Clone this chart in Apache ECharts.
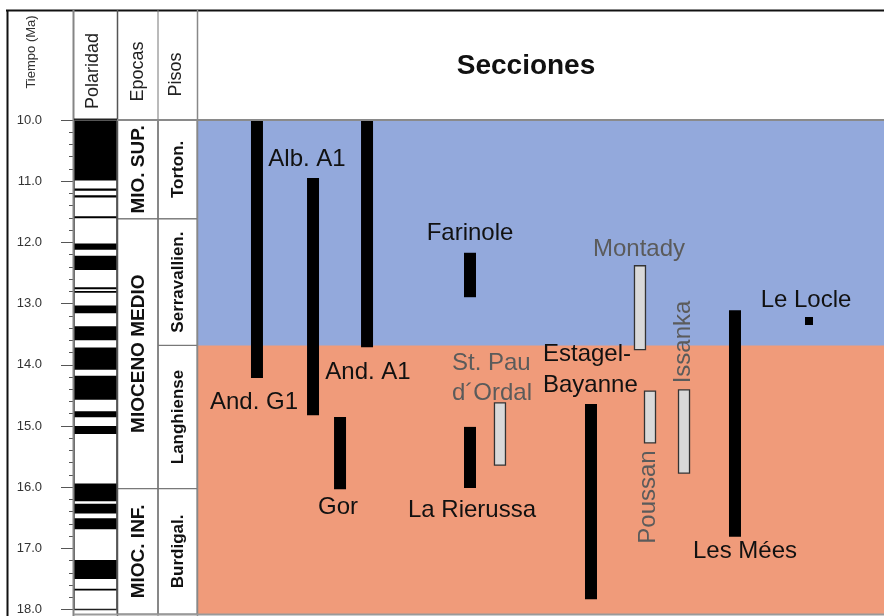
<!DOCTYPE html>
<html><head><meta charset="utf-8">
<script src="https://cdn.jsdelivr.net/npm/echarts@6/dist/echarts.min.js"></script>
<style>html,body{margin:0;padding:0;background:#fff}#c{width:884px;height:616px}</style>
</head><body><div id="c"></div>
<script>
// ---------- data ----------
const timeTicks = [10, 11, 12, 13, 14, 15, 16, 17, 18];           // Ma
const polarityNormal = [                                          // black (normal) chrons, Ma
  [10.0, 10.99], [11.12, 11.155], [11.23, 11.265], [11.575, 11.605],
  [12.02, 12.12], [12.22, 12.45], [12.735, 12.765], [12.795, 12.825],
  [13.03, 13.16], [13.37, 13.6], [13.72, 14.08], [14.18, 14.57],
  [14.76, 14.86], [15.0, 15.13], [15.94, 16.23], [16.27, 16.43],
  [16.51, 16.69], [17.19, 17.5], [17.66, 17.69]
];
const epochNames  = ['MIO. SUP.', 'MIOCENO MEDIO', 'MIOC. INF.'];
const epochBounds = [[10, 11.6], [11.6, 15.97], [15.97, 18]];
const stageNames  = ['Torton.', 'Serravallien.', 'Langhiense', 'Burdigal.'];
const stageBounds = [[10, 11.6], [11.6, 13.65], [13.65, 15.97], [15.97, 18]];
const bandBounds  = [[10, 13.65], [13.65, 18]];

const sectionNames = ['And. G1', 'Alb. A1', 'And. A1', 'Gor', 'Farinole', 'La Rierussa',
  'St. Pau d´Ordal', 'Estagel-Bayanne', 'Montady', 'Poussan', 'Issanka', 'Les Mées', 'Le Locle'];
const sectionTop  = [10.0, 10.94, 10.0, 14.81, 12.15, 14.97, 14.58, 14.6, 12.36, 14.39, 14.37, 13.08, 13.19];
const sectionBase = [14.18, 14.78, 13.68, 15.98, 12.87, 15.96, 15.59, 17.76, 13.72, 15.23, 15.72, 16.75, 13.32];
const sectionKind = ['solid', 'solid', 'solid', 'solid', 'solid', 'solid',
  'open', 'solid', 'open', 'open', 'open', 'solid', 'point'];

// ---------- layout (not data) ----------
const sectionX = [0.0873, 0.1689, 0.2475, 0.2082, 0.3974, 0.3974, 0.4410, 0.5735, 0.6448, 0.6594, 0.7089, 0.7831, 0.8908];
const bandColors = ['#93a9dc', '#f09b7a'];
const FONT = "'Liberation Sans', Arial, Helvetica, sans-serif";
const TOP = 120, H = 494;

const chart = echarts.init(document.getElementById('c'), null, {renderer: 'canvas'});

const yBase = {type: 'value', inverse: true, min: timeTicks[0], max: timeTicks[timeTicks.length - 1], interval: 1,
  splitLine: {show: false}, axisLine: {show: false}};
const xBase = {type: 'value', min: 0, max: 1, show: false};

function colRender(names, colorLine, fontSize, fontWeight) {
  return function (params, api) {
    const a = api.value(0), b = api.value(1);
    const p0 = api.coord([0, a]), p1 = api.coord([1, b]);
    const idx = params.dataIndex;
    return {type: 'group', children: [
      {type: 'rect', shape: {x: p0[0], y: p0[1], width: p1[0] - p0[0], height: p1[1] - p0[1]},
        style: {fill: 'none', stroke: colorLine, lineWidth: 1}},
      {type: 'text', x: (p0[0] + p1[0]) / 2 + 1, y: (p0[1] + p1[1]) / 2, rotation: Math.PI / 2,
        style: {text: names[idx], fontSize: fontSize, fontWeight: fontWeight, fontFamily: FONT, fill: '#111',
          align: 'center', verticalAlign: 'middle'}}
    ]};
  };
}

function txt(text, x, y, size, opts) {
  opts = opts || {};
  return {type: 'text', x: x, y: y, rotation: opts.rot || 0, z: 100,
    style: {text: text, fontSize: size, fontFamily: FONT, fontWeight: opts.weight || 'normal',
      fill: opts.color || '#111', align: opts.align || 'center', textAlign: opts.align || 'center',
      verticalAlign: 'middle', textVerticalAlign: 'middle'}};
}
function line(x1, y1, x2, y2, color, w) {
  return {type: 'line', z: 90, shape: {x1: x1, y1: y1, x2: x2, y2: y2}, style: {stroke: color, lineWidth: w}};
}
const BLACK = '#151515', GRAY = '#5b5b5b';

const option = {
  backgroundColor: '#fff',
  animation: false,
  grid: [
    {left: 74, width: 43, top: TOP, height: H, show: true, borderColor: '#222', borderWidth: 1.5},
    {left: 117, width: 41, top: TOP, height: H},
    {left: 158, width: 39, top: TOP, height: H},
    {left: 197, width: 687, top: TOP, height: H}
  ],
  xAxis: [0, 1, 2, 3].map(i => Object.assign({gridIndex: i}, xBase)),
  yAxis: [
    Object.assign({gridIndex: 0, offset: 12, position: 'left',
      axisTick: {show: true, length: 13, lineStyle: {color: '#555', width: 1}},
      minorTick: {show: true, splitNumber: 5, length: 5, lineStyle: {color: '#555', width: 1}},
      minorSplitLine: {show: false},
      axisLabel: {margin: 20, fontSize: 13, color: '#333', fontFamily: FONT, formatter: v => v.toFixed(1)}}, yBase),
    Object.assign({gridIndex: 1, show: false}, yBase),
    Object.assign({gridIndex: 2, show: false}, yBase),
    Object.assign({gridIndex: 3, show: false}, yBase)
  ],
  series: [
    {type: 'custom', name: 'Polaridad', xAxisIndex: 0, yAxisIndex: 0,
      data: polarityNormal, encode: {y: [0, 1]},
      renderItem: function (params, api) {
        const p0 = api.coord([0, api.value(0)]), p1 = api.coord([1, api.value(1)]);
        return {type: 'rect', shape: {x: p0[0], y: p0[1], width: p1[0] - p0[0], height: Math.max(1.6, p1[1] - p0[1])},
          style: {fill: '#000'}};
      }},
    {type: 'custom', name: 'Epocas', xAxisIndex: 1, yAxisIndex: 1,
      data: epochBounds, encode: {y: [0, 1]}, renderItem: colRender(epochNames, '#777', 19, 'bold')},
    {type: 'custom', name: 'Pisos', xAxisIndex: 2, yAxisIndex: 2,
      data: stageBounds, encode: {y: [0, 1]}, renderItem: colRender(stageNames, '#777', 17, 'bold')},
    {type: 'custom', name: 'Fondo', xAxisIndex: 3, yAxisIndex: 3, z: 1,
      data: bandBounds, encode: {y: [0, 1]},
      renderItem: function (params, api) {
        const p0 = api.coord([0, api.value(0)]), p1 = api.coord([1, api.value(1)]);
        return {type: 'rect', shape: {x: p0[0], y: p0[1], width: p1[0] - p0[0], height: p1[1] - p0[1] + 1},
          style: {fill: bandColors[params.dataIndex]}};
      }},
    {type: 'custom', name: 'Secciones', xAxisIndex: 3, yAxisIndex: 3, z: 5,
      data: sectionNames.map((n, i) => [sectionX[i], sectionTop[i], sectionBase[i]]),
      encode: {x: 0, y: [1, 2]},
      renderItem: function (params, api) {
        const k = sectionKind[params.dataIndex];
        const p0 = api.coord([api.value(0), api.value(1)]), p1 = api.coord([api.value(0), api.value(2)]);
        if (k === 'point') {
          const cy = (p0[1] + p1[1]) / 2;
          return {type: 'rect', shape: {x: p0[0] - 4, y: cy - 4, width: 8, height: 8}, style: {fill: '#000'}};
        }
        const w = 12;
        if (k === 'open') {
          return {type: 'rect', shape: {x: p0[0] - w / 2 + 0.5, y: p0[1], width: w - 1, height: p1[1] - p0[1]},
            style: {fill: '#d9d9d9', stroke: '#333', lineWidth: 1.3}};
        }
        return {type: 'rect', shape: {x: p0[0] - w / 2, y: p0[1], width: w, height: p1[1] - p0[1]},
          style: {fill: '#000'}};
      }}
  ],
  graphic: [
    // frame
    line(6, 10.5, 884, 10.5, '#111', 2),
    line(7.5, 10, 7.5, 616, '#111', 2),
    line(73.5, 10, 73.5, 616, '#858585', 2),
    line(117.5, 10, 117.5, 616, '#555', 1.5),
    line(158, 10, 158, 616, '#777', 1),
    line(197.5, 10, 197.5, 616, '#888', 1.5),
    line(74, 120, 884, 120, '#8a8a8a', 2),
    line(74, 119.5, 117, 119.5, '#222', 2),
    line(74, 614.5, 884, 614.5, '#9a9a9a', 2),
    // header
    txt('Tiempo (Ma)', 31, 52, 13, {rot: Math.PI / 2, color: '#333'}),
    txt('Polaridad', 93, 71, 18, {rot: Math.PI / 2, color: '#222'}),
    txt('Epocas', 138, 71.5, 18, {rot: Math.PI / 2, color: '#222'}),
    txt('Pisos', 176, 74.5, 18, {rot: Math.PI / 2, color: '#222'}),
    txt('Secciones', 526, 66, 28, {weight: 'bold'}),
    // section labels
    txt('Alb. A1', 307, 159, 24),
    txt('Farinole', 470, 233, 24),
    txt('And. A1', 368, 372, 24),
    txt('And. G1', 254, 402, 24),
    txt('St. Pau', 452, 363, 24, {align: 'left', color: GRAY}),
    txt('d´Ordal', 452, 393, 24, {align: 'left', color: GRAY}),
    txt('Gor', 338, 507, 24),
    txt('La Rierussa', 472, 510, 24),
    txt('Montady', 639, 249, 24, {color: GRAY}),
    txt('Le Locle', 806, 300, 24),
    txt('Estagel-', 543, 354, 24, {align: 'left'}),
    txt('Bayanne', 543, 385, 24, {align: 'left'}),
    txt('Issanka', 683, 342, 24, {rot: Math.PI / 2, color: GRAY}),
    txt('Poussan', 648, 497, 24, {rot: Math.PI / 2, color: GRAY}),
    txt('Les Mées', 745, 551, 24)
  ]
};
chart.setOption(option);
</script>
</body></html>
